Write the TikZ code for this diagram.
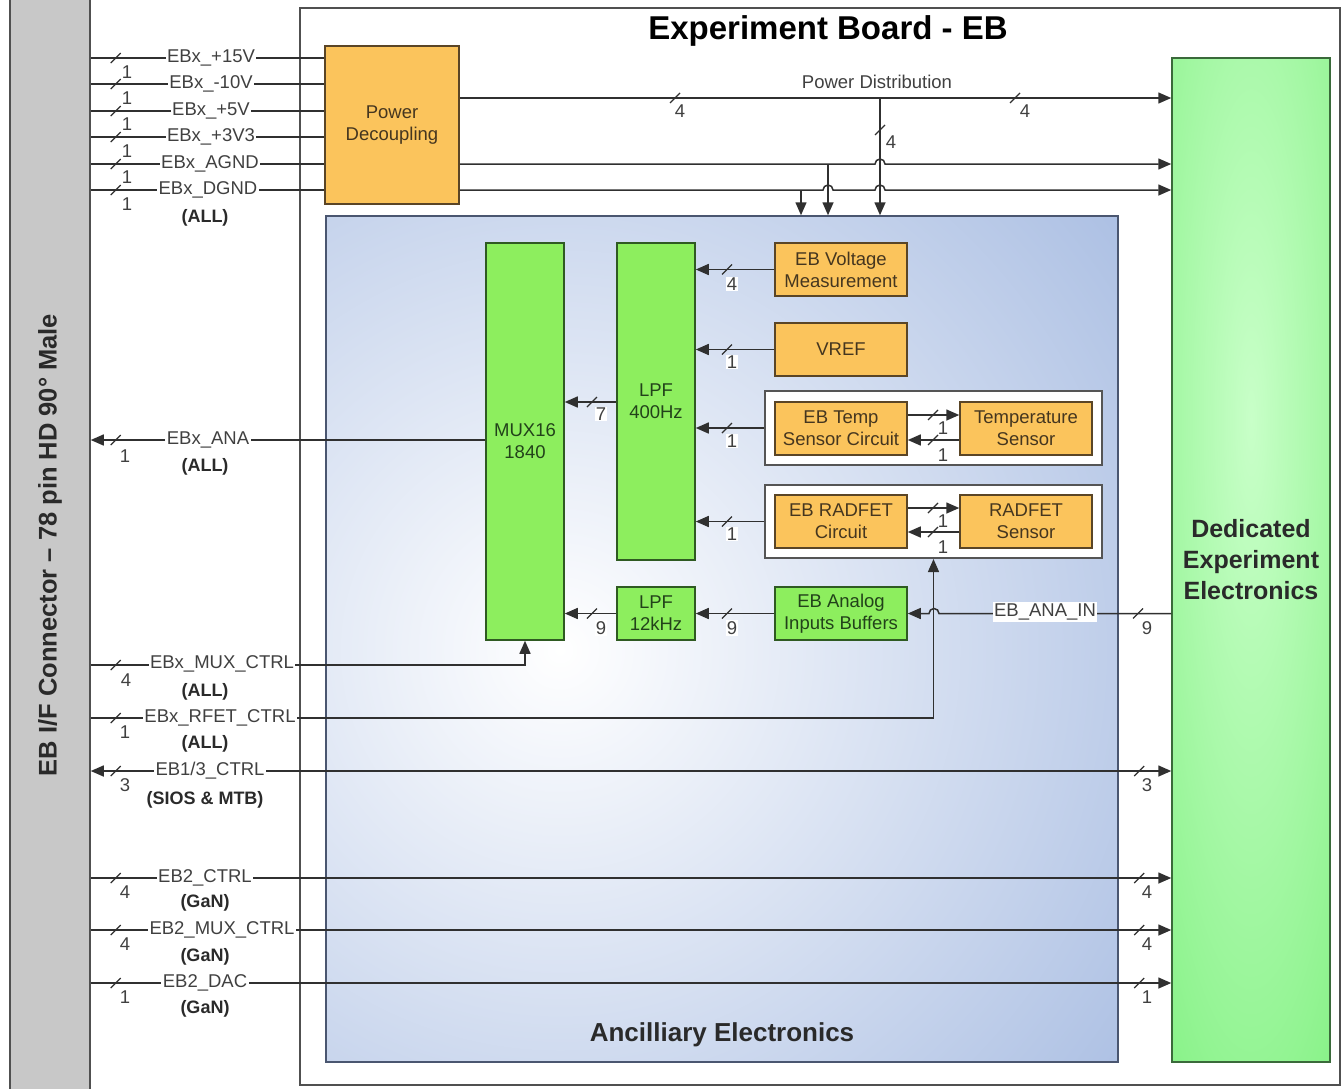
\documentclass[tikz,border=0pt]{standalone}
\usepackage{fontspec}
\setmainfont{Liberation Sans}
\usetikzlibrary{arrows.meta}

\definecolor{linec}{HTML}{303030}
\definecolor{txtc}{HTML}{404040}
\definecolor{tagc}{HTML}{2A2A2A}
\definecolor{oranf}{HTML}{FBC45C}
\definecolor{obord}{HTML}{5A4526}
\definecolor{otext}{HTML}{45361F}
\definecolor{greenf}{HTML}{8DEE5E}
\definecolor{gbord}{HTML}{2F5A22}
\definecolor{gtext}{HTML}{22421A}
\definecolor{ancblue}{HTML}{A2B8E0}
\definecolor{ancbord}{HTML}{4A5670}
\definecolor{deegreen}{HTML}{80F080}
\definecolor{deelight}{HTML}{C8FFC8}
\definecolor{deebord}{HTML}{3A6A3A}
\definecolor{connfill}{HTML}{C8C8C8}
\definecolor{connbord}{HTML}{505050}
\definecolor{boardc}{HTML}{505050}
\definecolor{grpc}{HTML}{555555}

\tikzset{
  bus/.pic={\draw[linec, line width=1.2pt] (-5,5) -- (5,-5);},
}

\begin{document}
\begin{tikzpicture}[x=1pt,y=-1pt,
  wire/.style={draw=linec, line width=1.5pt},
  wirer/.style={wire, -{Triangle[length=13pt,width=11pt]}},
  wirel/.style={wire, {Triangle[length=13pt,width=11pt]}-},
  wireb/.style={wire, {Triangle[length=13pt,width=11pt]}-{Triangle[length=13pt,width=11pt]}},
  labtxt/.style={font=\fontsize{18.5}{21}\selectfont, text=txtc},
  lab/.style={labtxt, fill=white, inner sep=1.5pt},
  cnt/.style={labtxt, inner sep=1pt},
  cntw/.style={cnt, fill=white},
  grouptag/.style={font=\bfseries\fontsize{18}{21}\selectfont, text=tagc},
  blk/.style={draw, line width=1.5pt, inner sep=0pt, align=center, font=\fontsize{18.5}{22}\selectfont},
  oblk/.style={blk, draw=obord, fill=oranf, text=otext},
  gblk/.style={blk, draw=gbord, fill=greenf, text=gtext},
  grpbox/.style={draw=grpc, line width=2pt, fill=white, inner sep=0pt},
]
\useasboundingbox (0,0) rectangle (1344,1088);

% signal rows
\coordinate (yP15) at (0,58);
\coordinate (yM10) at (0,84);
\coordinate (yP5)  at (0,111);
\coordinate (y3V3) at (0,137);
\coordinate (yAG)  at (0,164);
\coordinate (yDG)  at (0,190);
\coordinate (yPD)  at (0,98);
\coordinate (yANA) at (0,440);
\coordinate (yMC)  at (0,665);
\coordinate (yRF)  at (0,718);
\coordinate (y13)  at (0,771);
\coordinate (y2C)  at (0,878);
\coordinate (y2M)  at (0,930);
\coordinate (y2D)  at (0,983);
\coordinate (yL4)  at (0,402);
\coordinate (yT1)  at (0,415);
\coordinate (yT2)  at (0,440);
\coordinate (yR1)  at (0,508);
\coordinate (yR2)  at (0,532);

% connector strip
\node[draw=connbord, line width=1.5pt, fill=connfill, minimum width=80pt, minimum height=1110pt, inner sep=0pt] (conn) at (50,544) {};
\node[rotate=90, font=\bfseries\fontsize{25.5}{30}\selectfont, text=tagc] (conntxt) at (50,545) {EB I/F Connector – 78 pin HD 90° Male};

% experiment board frame
\node[draw=boardc, line width=1.5pt, minimum width=1040pt, minimum height=1077pt, inner sep=0pt] (board) at (820,546.5) {};
\node[font=\bfseries\fontsize{33}{38}\selectfont, text=black] (title) at (828,31) {Experiment Board - EB};

% power decoupling
\node[oblk, minimum width=134pt, minimum height=158pt] (pd) at (392,125) {Power\\Decoupling};

% ancillary electronics area
\node[draw=ancbord, line width=1.5pt, minimum width=792pt, minimum height=846pt, inner sep=0pt,
  path picture={
    \fill[ancblue] (path picture bounding box.south west) rectangle (path picture bounding box.north east);
    \shade[inner color=white, outer color=ancblue] ([shift={(-162,11)}]path picture bounding box.center) circle[radius=800];
  }] (anc) at (722,639) {};
\node[font=\bfseries\fontsize{26}{30}\selectfont, text=tagc] (anctxt) at (722,1035) {Ancilliary Electronics};

% dedicated experiment electronics
\node[draw=deebord, line width=1.5pt, minimum width=158pt, minimum height=1004pt, inner sep=0pt, align=center,
  font=\bfseries\fontsize{25}{31}\selectfont, text=tagc,
  path picture={
    \fill[deegreen] (path picture bounding box.south west) rectangle (path picture bounding box.north east);
    \shade[inner color=deelight, outer color=deegreen] ([shift={(0,-140)}]path picture bounding box.center) ellipse[x radius=160, y radius=900];
  }] (dee) at (1251,560) {Dedicated\\Experiment\\Electronics};

% processing blocks
\node[gblk, minimum width=78pt, minimum height=397pt] (mux) at (525,441.5) {MUX16\\1840};
\node[gblk, minimum width=78pt, minimum height=317pt] (lpf4) at (656,401.5) {LPF\\400Hz};
\node[gblk, minimum width=78pt, minimum height=53pt] (lpf12) at (656,613.5) {LPF\\12kHz};
\node[oblk, minimum width=132pt, minimum height=53pt] (evm) at (841,269.5) {EB Voltage\\Measurement};
\node[oblk, minimum width=132pt, minimum height=53pt] (vref) at (841,349.5) {VREF};
\node[grpbox, minimum width=337pt, minimum height=74pt] (tgrp) at (933.5,428) {};
\node[oblk, minimum width=132pt, minimum height=53pt] (tsc) at (841,428.5) {EB Temp\\Sensor Circuit};
\node[oblk, minimum width=132pt, minimum height=53pt] (tsen) at (1026,428.5) {Temperature\\Sensor};
\node[grpbox, minimum width=337pt, minimum height=73pt] (rgrp) at (933.5,521.5) {};
\node[oblk, minimum width=132pt, minimum height=53pt] (rfc) at (841,521.5) {EB RADFET\\Circuit};
\node[oblk, minimum width=132pt, minimum height=53pt] (rfs) at (1026,521.5) {RADFET\\Sensor};
\node[gblk, minimum width=132pt, minimum height=53pt] (buf) at (841,613.5) {EB Analog\\Inputs Buffers};

% supply inputs into the decoupling block
\foreach \r in {yP15,yM10,yP5,y3V3,yAG,yDG} {
  \draw[wire] (conn.east |- \r) -- (pd.west |- \r);
  \pic at ([xshift=25pt]conn.east |- \r) {bus};
}

% power distribution
\coordinate (pj) at (880,98);
\coordinate (aj) at (828,164);
\coordinate (dj) at (801,190);
\draw[wirer] (pd.east |- yPD) -- (dee.west |- yPD);
\draw[wirer] (pd.east |- yAG) -- (875,164) arc[start angle=180, end angle=360, radius=5] -- (dee.west |- yAG);
\draw[wirer] (pd.east |- yDG) -- (823,190) arc[start angle=180, end angle=360, radius=5]
  -- (875,190) arc[start angle=180, end angle=360, radius=5] -- (dee.west |- yDG);
\draw[wirer] (pj) -- (pj |- anc.north);
\draw[wirer] (aj) -- (aj |- anc.north);
\draw[wirer] (dj) -- (dj |- anc.north);
\pic at (675,98) {bus};
\pic at (1015,98) {bus};
\pic at (880,130) {bus};
\node[labtxt] (pdist) at (877,82) {Power Distribution};
\node[cnt] (n4a) at (680,111) {4};
\node[cnt] (n4b) at (1025,111) {4};
\node[cnt] (n4c) at (891,142) {4};

% analog chain
\draw[wirer] (evm.west) -- (lpf4.east |- evm.west);
\draw[wirer] (vref.west) -- (lpf4.east |- vref.west);
\draw[wirer] (tgrp.west) -- (lpf4.east |- tgrp.west);
\draw[wirer] (rgrp.west) -- (lpf4.east |- rgrp.west);
\draw[wirer] (lpf4.west |- yL4) -- (mux.east |- yL4);
\draw[wirer] (lpf12.west) -- (mux.east |- lpf12.west);
\draw[wirer] (buf.west) -- (lpf12.east);
\draw[wirel] (buf.east) -- (929,613.5) arc[start angle=180, end angle=360, radius=5] -- (dee.west |- buf.east);
\draw[wirer] (tsc.east |- yT1) -- (tsen.west |- yT1);
\draw[wirer] (tsen.west |- yT2) -- (tsc.east |- yT2);
\draw[wirer] (rfc.east |- yR1) -- (rfs.west |- yR1);
\draw[wirer] (rfs.west |- yR2) -- (rfc.east |- yR2);
\foreach \p in {(727,269.5),(727,349.5),(727,428),(727,521.5),(727,613.5),(592,402),(592,613.5),
                (933,415),(933,440),(933,508),(933,532),(1138,613.5)}
  \pic at \p {bus};
\node[cntw] (c1) at (732,284) {4};
\node[cntw] (c2) at (732,362) {1};
\node[cntw] (c3) at (732,441) {1};
\node[cntw] (c4) at (732,534) {1};
\node[cntw] (c5) at (601,414) {7};
\node[cntw] (c6) at (601,628) {9};
\node[cntw] (c7) at (732,628) {9};
\node[cnt] (c8) at (943,428) {1};
\node[cntw] (c9) at (943,455) {1};
\node[cnt] (c10) at (943,521) {1};
\node[cntw] (c11) at (943,547) {1};
\node[lab] (anain) at (1045,612) {EB\_ANA\_IN};
\node[cnt] (c12) at (1147,628) {9};

% control and analog lines to the connector
\draw[wirer] (mux.west |- yANA) -- (conn.east |- yANA);
\draw[wirer] (conn.east |- yMC) -| (mux.south);
\draw[wirer] (conn.east |- yRF) -| (rgrp.south);
\draw[wireb] (conn.east |- y13) -- (dee.west |- y13);
\draw[wirer] (conn.east |- y2C) -- (dee.west |- y2C);
\draw[wirer] (conn.east |- y2M) -- (dee.west |- y2M);
\draw[wirer] (conn.east |- y2D) -- (dee.west |- y2D);
\foreach \r in {yANA,yMC,yRF,y13,y2C,y2M,y2D}
  \pic at ([xshift=25pt]conn.east |- \r) {bus};
\foreach \r in {y13,y2C,y2M,y2D}
  \pic at ([xshift=-32pt]dee.west |- \r) {bus};

% left-hand signal names
\node[lab] (s1) at (211,58) {EBx\_+15V};
\node[lab] (s2) at (211,84) {EBx\_-10V};
\node[lab] (s3) at (211,111) {EBx\_+5V};
\node[lab] (s4) at (211,137) {EBx\_+3V3};
\node[lab] (s5) at (210,164) {EBx\_AGND};
\node[lab] (s6) at (208,190) {EBx\_DGND};
\node[grouptag] (g1) at (205,218) {(ALL)};
\node[cnt] (k1) at (127,72) {1};
\node[cnt] (k2) at (127,98) {1};
\node[cnt] (k3) at (127,124) {1};
\node[cnt] (k4) at (127,151) {1};
\node[cnt] (k5) at (127,177) {1};
\node[cnt] (k6) at (127,204) {1};

\node[lab] (s7) at (208,440) {EBx\_ANA};
\node[cnt] (k7) at (125,456) {1};
\node[grouptag] (g2) at (205,467) {(ALL)};
\node[lab] (s8) at (222,664) {EBx\_MUX\_CTRL};
\node[cnt] (k8) at (126,680) {4};
\node[grouptag] (g3) at (205,692) {(ALL)};
\node[lab] (s9) at (220,718) {EBx\_RFET\_CTRL};
\node[cnt] (k9) at (125,732) {1};
\node[grouptag] (g4) at (205,744) {(ALL)};
\node[lab] (s10) at (210,771) {EB1/3\_CTRL};
\node[cnt] (k10) at (125,785) {3};
\node[grouptag] (g5) at (205,800) {(SIOS \& MTB)};
\node[lab] (s11) at (205,878) {EB2\_CTRL};
\node[cnt] (k11) at (125,892) {4};
\node[grouptag] (g6) at (205,903) {(GaN)};
\node[lab] (s12) at (222,930) {EB2\_MUX\_CTRL};
\node[cnt] (k12) at (125,944) {4};
\node[grouptag] (g7) at (205,957) {(GaN)};
\node[lab] (s13) at (205,983) {EB2\_DAC};
\node[cnt] (k13) at (125,997) {1};
\node[grouptag] (g8) at (205,1009) {(GaN)};

% bus widths at the dedicated electronics
\node[cnt] (r1) at (1147,785) {3};
\node[cnt] (r2) at (1147,892) {4};
\node[cnt] (r3) at (1147,944) {4};
\node[cnt] (r4) at (1147,997) {1};
\end{tikzpicture}
\end{document}
